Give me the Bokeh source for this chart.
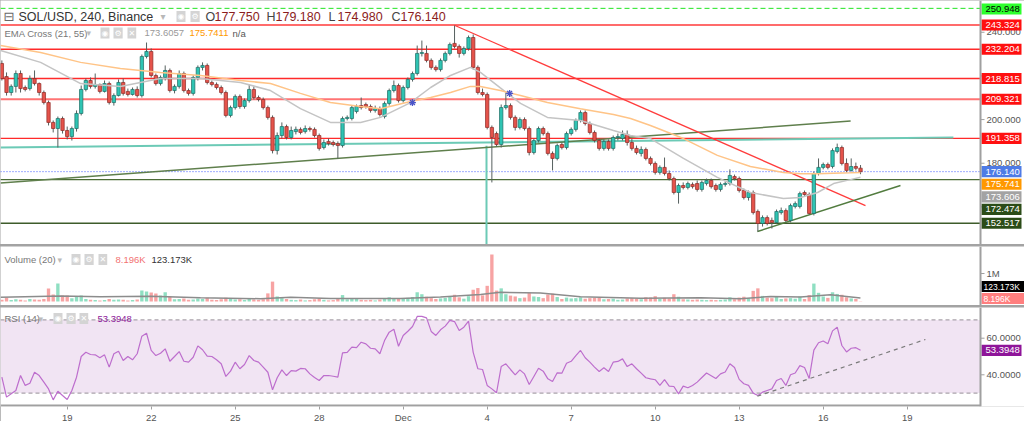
from bokeh.plotting import figure
from bokeh.models import Range1d, FixedTicker, Label, Span, BoxAnnotation
from bokeh.layouts import column
from bokeh.embed import file_html
from bokeh.resources import INLINE
from bokeh.core.properties import value

FONT = "Liberation Sans"

# ---------------- data ----------------
# day numbers: Nov d -> d, Dec d -> 30 + d ; one bar every 4 hours
first_bar_day = 19 - 14 / 6
bar_step = 1 / 6

opens = [
    225.7, 219.7, 212.4, 215.2, 221.1, 214.7, 214.2, 218.8, 216.5, 212.4,
    207.8, 198.7, 195.9, 200.5,
    195.0, 192.2, 195.9, 202.8, 213.8, 217.9, 215.2, 216.1, 212.9, 216.5,
    207.8, 211.0, 217.0, 212.9, 211.5, 213.8, 211.0, 228.9, 231.2, 220.2,
    216.5, 219.3, 222.5, 213.3, 215.2, 221.1, 213.3, 212.0, 219.3, 223.9,
    224.8, 217.0, 216.1, 214.7, 212.4, 201.9, 205.5, 210.6, 206.0, 208.7,
    213.8, 210.1, 209.2, 205.5, 201.0, 185.8, 192.7, 196.8, 191.8, 194.5,
    195.5, 194.5, 195.9, 195.5, 192.7, 187.2, 190.0, 189.5, 189.0, 188.1,
    200.5, 200.5, 203.7, 206.4, 206.9, 206.0, 204.2, 205.0, 201.4, 207.4,
    213.3, 215.6, 208.7, 214.7, 218.4, 221.1, 230.3, 230.3, 227.1, 223.9,
    222.9, 227.1, 230.3, 234.9, 233.5, 230.3, 232.6, 237.6, 223.9, 212.4,
    211.5, 196.4, 193.6, 188.6, 205.5, 206.4, 201.0, 196.4, 200.0, 195.9,
    184.9, 190.4, 195.9, 193.6, 184.5, 182.2, 188.6, 187.2, 193.6, 195.5,
    199.6, 203.2, 198.2, 194.1, 190.4, 186.8, 190.0, 186.8, 191.8, 191.3,
    193.2, 189.5, 186.8, 184.5, 186.3, 182.2, 179.9, 175.8, 178.1, 175.3,
    173.0, 166.6, 169.8, 168.9, 170.3, 170.7, 168.0, 170.7, 172.1, 169.8,
    168.0, 170.3, 170.7, 173.9, 173.0, 167.5, 164.3, 166.6, 157.9, 152.4,
    155.1, 153.8, 152.9, 157.4, 158.3, 153.8, 160.2, 160.2, 166.6, 165.7,
    157.0, 175.3, 178.1, 179.4, 178.5, 185.4, 187.2, 179.9, 176.7, 178.5, 177.75,
]
highs = [
    227.1, 221.6, 216.1, 222.5, 222.5, 215.6, 220.2, 222.5, 217.0, 213.3,
    208.7, 199.6, 201.4, 201.4,
    196.8, 196.8, 204.2, 215.6, 218.8, 219.3, 221.1, 216.5, 217.9, 217.4,
    212.0, 218.4, 218.8, 214.2, 214.7, 215.2, 229.8, 235.3, 232.6, 221.1,
    220.2, 224.8, 223.4, 216.1, 222.5, 222.0, 214.2, 220.2, 224.8, 226.2,
    225.7, 217.9, 217.0, 215.6, 213.3, 206.4, 211.5, 211.5, 209.7, 216.1,
    215.2, 211.0, 210.1, 206.4, 201.9, 194.1, 198.7, 197.7, 196.8, 196.8,
    196.4, 197.3, 196.8, 196.4, 193.6, 190.9, 191.3, 190.4, 190.0, 201.4,
    201.9, 206.4, 206.9, 210.1, 207.8, 206.9, 206.4, 206.0, 208.3, 214.2,
    217.9, 216.5, 215.6, 219.3, 222.0, 233.9, 236.2, 233.9, 228.0, 224.8,
    228.0, 231.2, 235.3, 243.1, 234.4, 233.5, 238.5, 239.0, 224.8, 214.2,
    212.4, 197.3, 194.5, 206.9, 212.4, 207.4, 201.9, 201.0, 201.0, 196.8,
    191.3, 196.8, 196.8, 194.5, 185.4, 189.0, 189.5, 194.5, 196.4, 200.5,
    204.2, 204.2, 199.1, 195.0, 191.3, 190.9, 190.9, 192.7, 193.6, 195.0,
    195.0, 191.3, 188.1, 187.7, 187.2, 183.1, 180.8, 179.0, 182.6, 176.7,
    173.9, 170.7, 171.2, 171.6, 171.2, 172.1, 172.1, 173.0, 173.0, 170.7,
    171.2, 171.6, 177.2, 174.8, 173.9, 168.4, 167.5, 167.5, 158.8, 156.1,
    156.1, 155.1, 158.8, 159.7, 159.3, 161.5, 162.5, 167.0, 167.5, 166.6,
    176.2, 182.2, 180.3, 180.3, 186.8, 189.0, 188.1, 182.2, 182.2, 180.3, 179.18,
]
lows = [
    217.9, 211.0, 211.0, 212.4, 212.4, 212.9, 213.3, 215.6, 211.0, 206.9,
    197.3, 194.1, 187.2, 193.6,
    190.9, 190.4, 194.5, 201.9, 212.9, 214.2, 214.2, 212.0, 212.4, 206.9,
    206.4, 210.6, 211.0, 210.6, 211.0, 210.1, 210.1, 228.0, 219.3, 215.6,
    215.6, 217.9, 212.4, 212.0, 214.2, 212.4, 211.0, 211.0, 217.9, 222.5,
    216.1, 215.2, 213.8, 211.5, 201.0, 201.0, 204.6, 205.0, 205.0, 207.8,
    209.2, 208.3, 204.6, 200.0, 184.5, 184.0, 191.3, 190.9, 190.9, 193.2,
    193.2, 193.6, 194.5, 191.8, 185.8, 186.3, 188.1, 187.7, 182.2, 187.2,
    199.6, 199.6, 202.8, 204.6, 205.0, 203.2, 203.2, 201.4, 200.5, 206.4,
    212.4, 207.8, 207.8, 213.8, 217.4, 220.2, 228.9, 226.2, 222.9, 222.0,
    222.0, 226.2, 229.4, 232.6, 228.4, 229.4, 231.6, 222.9, 211.5, 210.6,
    195.5, 171.2, 187.7, 187.2, 204.6, 200.0, 195.0, 195.5, 195.0, 183.6,
    184.0, 189.5, 192.7, 183.6, 176.7, 181.3, 186.3, 186.3, 192.7, 194.5,
    198.7, 197.3, 193.2, 189.5, 185.8, 185.8, 185.8, 185.8, 190.4, 190.4,
    188.1, 185.8, 184.0, 183.1, 181.3, 179.0, 174.8, 174.8, 174.4, 172.1,
    165.7, 161.5, 168.0, 168.0, 168.4, 167.0, 167.0, 169.8, 168.4, 167.0,
    167.0, 169.3, 169.8, 172.1, 166.6, 163.4, 162.9, 156.5, 148.7, 151.0,
    151.5, 150.1, 152.4, 156.5, 152.9, 152.9, 159.3, 159.3, 164.8, 156.5,
    156.1, 174.4, 177.2, 177.2, 177.6, 184.5, 179.0, 175.8, 176.2, 176.7, 174.98,
]
closes = [
    218.8, 212.4, 215.2, 221.1, 214.2, 213.8, 218.8, 216.5, 212.4, 207.8,
    198.7, 195.9, 200.5, 195.0,
    192.2, 195.9, 202.8, 213.8, 217.9, 215.2, 216.1, 212.9, 216.5, 207.8,
    211.0, 217.0, 212.0, 211.5, 213.8, 211.0, 228.9, 231.2, 220.2, 216.5,
    219.3, 222.5, 213.3, 215.2, 221.1, 213.3, 212.0, 219.3, 223.9, 224.8,
    217.0, 216.1, 214.7, 212.4, 201.9, 205.5, 210.6, 206.0, 208.7, 213.8,
    210.1, 209.2, 205.5, 201.0, 185.8, 192.7, 196.8, 191.8, 195.0, 195.5,
    194.1, 195.9, 195.5, 192.7, 186.8, 189.5, 189.0, 188.6, 188.1, 200.5,
    201.0, 205.5, 206.0, 205.5, 206.0, 204.2, 205.0, 202.3, 207.4, 213.3,
    215.6, 208.7, 214.7, 218.4, 221.1, 230.3, 230.7, 227.1, 223.9, 222.9,
    227.1, 230.3, 234.4, 233.5, 230.3, 232.6, 237.6, 223.9, 212.4, 211.5,
    196.4, 191.8, 188.6, 205.5, 206.4, 201.0, 196.4, 200.0, 195.9, 184.9,
    190.4, 195.9, 193.6, 184.5, 182.2, 188.1, 187.2, 193.6, 195.5, 199.6,
    203.2, 198.2, 194.1, 190.4, 186.8, 190.0, 186.8, 191.8, 192.2, 193.2,
    189.5, 186.8, 184.9, 186.3, 182.2, 179.9, 175.8, 178.1, 175.3, 173.0,
    166.6, 169.8, 168.9, 170.7, 169.3, 168.0, 171.2, 172.1, 169.3, 168.0,
    170.3, 170.7, 174.4, 173.0, 167.5, 164.3, 166.6, 157.4, 152.4, 155.1,
    152.4, 152.9, 157.9, 158.3, 153.8, 160.6, 161.5, 166.1, 165.7, 157.0,
    175.3, 178.1, 179.4, 178.1, 185.8, 187.2, 179.9, 176.7, 178.5, 177.7, 176.14,
]
volumes_k = [
    60, 140, 50, 80, 60, 40, 90, 70, 60, 90,
    460, 250, 640, 210,
    210, 120, 180, 210, 90, 60, 50, 40, 50, 90,
    60, 70, 60, 40, 50, 70, 390, 360, 320, 290,
    210, 330, 180, 80, 90, 110, 60, 70, 110, 90,
    130, 60, 50, 80, 130, 90, 70, 80, 50, 110,
    70, 60, 80, 290, 710, 180, 120, 90, 60, 50,
    70, 40, 50, 80, 120, 60, 40, 50, 110, 230,
    80, 120, 90, 60, 50, 60, 40, 70, 110, 150,
    90, 100, 120, 130, 160, 330, 260, 170, 120, 90,
    110, 130, 170, 240, 150, 100, 190, 420, 480, 220,
    560, 1680, 390, 470, 260, 210, 180, 120, 140, 300,
    180, 160, 120, 250, 280, 160, 90, 140, 110, 120,
    150, 100, 120, 130, 140, 80, 90, 100, 60, 70,
    110, 120, 100, 80, 150, 140, 190, 90, 130, 110,
    260, 170, 80, 70, 60, 70, 60, 50, 60, 50,
    60, 70, 150, 80, 140, 170, 120, 380, 470, 200,
    140, 120, 170, 90, 110, 120, 100, 180, 90, 230,
    640, 310, 180, 130, 330, 270, 240, 150, 110, 90, 8.196,
]
rsi_vals = [
    38.7, 27.8, 29.6, 31.4, 39.6, 34.2, 35.4, 41.4, 39.6, 36.0,
    32.3, 26.3, 31.0, 28.7,
    26.5, 31.4, 38.7, 50.0, 52.3, 51.1, 50.9, 49.3, 50.9, 44.2,
    51.5, 52.9, 47.8, 50.0, 48.2, 51.5, 61.1, 62.7, 53.3, 50.5,
    51.8, 54.2, 47.4, 50.0, 52.7, 47.4, 46.9, 49.6, 55.8, 53.7,
    50.2, 50.0, 48.2, 46.0, 39.1, 42.0, 46.9, 43.3, 45.6, 50.5,
    47.8, 46.9, 44.2, 41.4, 31.8, 38.4, 42.7, 39.6, 42.3, 42.0,
    43.5, 43.3, 40.5, 38.5, 36.9, 39.6, 39.6, 39.2, 38.7, 52.0,
    52.3, 55.1, 54.8, 57.8, 56.9, 54.5, 54.2, 51.5, 58.7, 63.3,
    64.9, 55.6, 61.5, 63.8, 66.4, 71.9, 71.9, 71.1, 63.7, 61.5,
    64.6, 66.6, 69.7, 69.1, 64.2, 66.0, 69.3, 52.3, 43.3, 42.9,
    34.2, 32.3, 30.2, 44.5, 46.0, 42.9, 40.0, 42.7, 40.5, 34.7,
    39.1, 43.6, 42.0, 37.8, 36.3, 41.1, 40.9, 46.3, 47.4, 50.5,
    53.3, 49.3, 46.9, 44.2, 41.8, 43.8, 41.8, 46.9, 47.3, 48.7,
    44.5, 46.0, 43.3, 40.9, 38.4, 37.8, 37.3, 34.2, 37.4, 33.8,
    33.6, 29.6, 33.8, 32.9, 34.2, 36.0, 38.5, 41.0, 39.5, 38.0,
    40.5, 41.5, 46.0, 44.0, 37.5, 35.1, 34.2, 30.0, 28.7, 30.5,
    31.4, 32.3, 36.9, 38.0, 34.2, 40.0, 41.0, 45.0, 44.0, 38.0,
    53.5, 57.5, 58.5, 57.0, 64.0, 66.0, 56.0, 52.5, 54.5, 54.8, 53.3948,
]

# EMA cross (21, 55), read at these days
ema_days = [16.62, 18.05, 19.48, 20.90, 22.33, 23.76, 25.19, 26.26, 27.33, 28.40,
            29.48, 30.19, 31.26, 31.98, 32.69, 33.40, 33.76, 34.47, 35.19, 36.15,
            37.33, 38.51, 39.12, 39.83, 41.01, 42.22, 43.40, 44.58, 45.19, 45.80,
            46.37, 46.97, 47.33]
ema21_vals = [231.6, 226.2, 216.5, 215.2, 218.8, 218.8, 217.0, 213.3, 205.0, 198.7,
              198.7, 201.0, 207.8, 214.7, 220.2, 223.9, 221.6, 214.5, 207.4, 201.0,
              199.6, 195.0, 192.7, 191.3, 182.2, 173.5, 166.6, 163.8, 164.3, 166.6,
              170.7, 172.5, 173.606]
ema55_vals = [233.9, 230.7, 226.2, 223.4, 221.6, 220.2, 217.9, 216.5, 212.0, 207.8,
              206.0, 205.0, 208.3, 210.1, 212.4, 215.2, 215.2, 213.3, 211.0, 207.8,
              205.0, 202.3, 200.5, 197.3, 191.3, 183.6, 178.5, 175.8, 175.2, 175.2,
              175.4, 175.6, 175.741]
cross_days = [31.33, 34.80]
cross_prices = [207.8, 212.0]

# Volume MA(20), read at these days (thousands)
vol_ma_days = [16.62, 18.76, 20.19, 21.98, 23.76, 25.90, 26.98, 28.40, 30.90, 32.33,
               33.76, 34.47, 35.90, 37.33, 39.47, 41.62, 43.05, 44.12, 45.19, 46.26, 47.33]
vol_ma_k = [150, 200, 170, 190, 130, 100, 150, 110, 110, 160,
            250, 330, 300, 170, 120, 130, 100, 180, 160, 240, 123.173]

# horizontal levels on the price pane
level_values = [250.948, 243.324, 232.204, 218.815, 209.321, 191.358, 176.140, 172.474, 152.517]
# price-scale tags
tag_values = [250.948, 243.324, 232.204, 218.815, 209.321, 191.358, 176.140, 175.741, 173.606, 172.474, 152.517]

# drawn trend lines: (day0, value0, day1, value1)
teal_line = (16.62, 187.2, 50.65, 191.8)
teal_drop = (33.975, 188.0, 33.975, 142.9)
green_long = (16.62, 171.0, 46.98, 199.3)
red_down = (32.83, 243.2, 47.51, 160.6)
green_support = (43.65, 148.7, 48.76, 169.8)
rsi_trend = (43.65, 28.3, 49.65, 59.3)

price_ticks = [160, 180, 200, 220, 240]
price_tick_labels = ["160.000", "180.000", "200.000", "220.000", "240.000"]
vol_ticks = [1_000_000]
vol_tick_labels = ["1M"]
rsi_ticks = [40, 60]
rsi_tick_labels = ["40.0000", "60.0000"]
day_ticks = [19, 22, 25, 28, 31, 34, 37, 40, 43, 46, 49]
day_labels = ["19", "22", "25", "28", "Dec", "4", "7", "10", "13", "16", "19"]

# ---------------- geometry ----------------
PX_DAY = 28.0
X_LEFT = 19 - 66.7 / PX_DAY
W = 1024
AX_PX = 980          # price-scale border
xr = Range1d(X_LEFT, X_LEFT + W / PX_DAY)


def xd(px):
    return X_LEFT + px / PX_DAY


X_AX = xd(AX_PX)

MAIN_H = 244
P_PX = 1 / 2.183
P_TOP = 243.324 + 24.5 * P_PX
P_BOT = P_TOP - MAIN_H * P_PX

VOL_H = 59
V_PX = 1e6 / 28
V_TOP = 55 * V_PX
V_BOT = V_TOP - VOL_H * V_PX

RSI_H = 99
R_PX = 1 / 1.83
R_TOP = 60 + 30.7 * R_PX
R_BOT = R_TOP - RSI_H * R_PX

UP, UP_EDGE = "#2fc4b3", "#1d6d64"
DN, DN_EDGE = "#e5534b", "#8c2a25"
WICK = "#56605f"
AXIS_C = "#a0a0a0"
TXT_C = "#555555"


def base_fig(fh, yrange, with_x_axis=False):
    p = figure(frame_width=W, frame_height=fh, x_range=xr, y_range=yrange,
               output_backend="svg", toolbar_location=None, title=None,
               x_axis_location="below" if with_x_axis else None,
               y_axis_location=None,
               min_border_left=0, min_border_right=0, min_border_top=0,
               min_border_bottom=15 if with_x_axis else 0)
    p.outline_line_color = None
    for g in p.grid:
        g.grid_line_color = None
    p.background_fill_color = "white"
    p.border_fill_color = "white"
    return p


def right_scale(p, ticks, labels):
    p.add_layout(Span(location=X_AX, dimension="height", line_color=AXIS_C, line_width=2))
    n_t = len(ticks)
    p.segment(x0=[X_AX] * n_t, y0=ticks, x1=[xd(AX_PX + 4)] * n_t, y1=ticks,
              line_color=AXIS_C, line_width=1)
    p.text(x=[xd(AX_PX + 6)] * n_t, y=ticks, text=labels, text_color=TXT_C,
           text_font=value(FONT), text_font_size=value("9.5px"),
           text_baseline="middle", text_align="left")


def tags(p, yvals, texts, bgs, fgs, half, right_px=1021, text_px=985, size="9.5px"):
    n_t = len(yvals)
    p.quad(left=[xd(AX_PX + 1)] * n_t, right=[xd(right_px)] * n_t,
           bottom=[y - half for y in yvals], top=[y + half for y in yvals],
           fill_color=bgs, line_color=None)
    p.text(x=[xd(text_px)] * n_t, y=yvals, text=texts, text_color=fgs,
           text_font=value(FONT), text_font_size=value(size),
           text_baseline="middle", text_align="left")


def lab(p, px, yval, text, color, size="9.5px", font=FONT, bg=None, pad=0):
    kw = {}
    if bg is not None:
        kw = dict(background_fill_color=bg, padding=dict(left=pad, right=pad, top=1, bottom=1))
    p.add_layout(Label(x=xd(px), y=yval, text=text, text_color=color, text_font_size=size,
                       text_font=font, text_baseline="middle", text_align="left", **kw))


def icons(p, pxs, yval, glyphs):
    for px, g in zip(pxs, glyphs):
        lab(p, px, yval, g, "white", size="8px", font="DejaVu Sans", bg="#d4d4d4", pad=1)


def hline(p, yv, col, w, dash="solid"):
    p.segment(x0=[X_LEFT], y0=[yv], x1=[X_AX], y1=[yv], line_color=col, line_width=w, line_dash=dash)


n = len(closes)
t = [first_bar_day + i * bar_step for i in range(n)]
up = [c >= o for o, c in zip(opens, closes)]
body_top = [max(o, c) for o, c in zip(opens, closes)]
body_bot = [min(o, c) for o, c in zip(opens, closes)]

# ---------------- price pane ----------------
pm = base_fig(MAIN_H, Range1d(P_BOT, P_TOP))

level_styles = [("#22e622", 1, "5 3"), ("#ff6b6b", 2, "solid"), ("#ff2a2a", 1.3, "solid"),
                ("#ff2a2a", 1.3, "solid"), ("#ff7474", 2, "solid"), ("#ff2a2a", 1.3, "solid"),
                ("#3d5afe", 1, "1 2"), ("#4b6b36", 1.3, "solid"), ("#3e5c2b", 1.3, "solid")]
for v, (col, w, dash) in zip(level_values, level_styles):
    hline(pm, v, col, w, dash)

for seg, col, w in [(teal_line, "#6ccab6", 2), (teal_drop, "#6ccab6", 2),
                    (green_long, "#5f7f4c", 1.5), (red_down, "#ff3c3c", 1.3),
                    (green_support, "#527c3f", 1.5)]:
    pm.line([seg[0], seg[2]], [seg[1], seg[3]], line_color=col, line_width=w)

pm.segment(x0=t, y0=highs, x1=t, y1=lows, line_color=WICK, line_width=1)
pm.vbar(x=t, width=0.12, top=body_top, bottom=body_bot,
        fill_color=[UP if u else DN for u in up],
        line_color=[UP_EDGE if u else DN_EDGE for u in up], line_width=0.7)

pm.line(ema_days, ema21_vals, line_color="#c4c4c4", line_width=1.5)
pm.line(ema_days, ema55_vals, line_color="#ffc487", line_width=1.5)
pm.scatter(cross_days, cross_prices, marker="asterisk", size=7, line_color="#4b55c8", line_width=1.3)

right_scale(pm, price_ticks, price_tick_labels)

tag_styles = [("#2dff2d", "#000000"), ("#ff1010", "white"), ("#ff1010", "white"),
              ("#ff1010", "white"), ("#ff1010", "white"), ("#ff1010", "white"),
              ("#4e7be6", "white"), ("#ff9800", "white"), ("#a3a3a3", "white"),
              ("#2b4c18", "white"), ("#2b4c18", "white")]
prev = -1e9
ty, tt, tb, tf = [], [], [], []
for v, (bg, fg) in sorted(zip(tag_values, tag_styles), key=lambda r: -r[0]):
    py = (P_TOP - v) / P_PX
    py = max(py, prev + 12.6, 8.5)
    prev = py
    ty.append(P_TOP - py * P_PX)
    tt.append(f"{v:.3f}")
    tb.append(bg)
    tf.append(fg)
tags(pm, ty, tt, tb, tf, 5.6 * P_PX)

# legend texts
y1 = P_TOP - 16 * P_PX
y2 = P_TOP - 32.5 * P_PX
lab(pm, 3, y1, "\u229f", "#6a6a6a", size="13px", font="DejaVu Sans")
lab(pm, 18, y1, "SOL/USD, 240, Binance", "#333333", size="12.5px")
lab(pm, 160, y1, "\u25be", "#b8b8b8", size="10px", font="DejaVu Sans")
icons(pm, [176, 190], y1, ["\u25c9", "\u2699"])
for px, letter, val in [(205, "O", "177.750"), (266, "H", "179.180"),
                        (328, "L", "174.980"), (391, "C", "176.140")]:
    lab(pm, px, y1, letter, "#444444", size="12.5px")
    lab(pm, px + 9, y1, val, "#8b1d1d", size="12.5px")
lab(pm, 4, y2, "EMA Cross (21, 55)", "#777777")
lab(pm, 86, y2, "\u25be", "#bbbbbb", size="9px", font="DejaVu Sans")
icons(pm, [100, 113, 127], y2, ["\u25c9", "\u2699", "\u2715"])
lab(pm, 144, y2, "173.6057", "#999999")
lab(pm, 189, y2, "175.7411", "#ff9800")
lab(pm, 232, y2, "n/a", "#555555")

# ---------------- volume pane ----------------
pv = base_fig(VOL_H, Range1d(V_BOT, V_TOP))
pv.vbar(x=t, width=0.12, top=[v * 1000 for v in volumes_k], bottom=0,
        fill_color=["#8fdfc2" if u else "#f7a3a3" for u in up], line_color=None)
pv.line(vol_ma_days, [v * 1000 for v in vol_ma_k], line_color="#8c8c8c", line_width=1.5)
right_scale(pv, vol_ticks, vol_tick_labels)


def yv(py):
    return V_TOP - (py - 246) * V_PX


tags(pv, [yv(286), yv(298)], ["123.173K", "8.196K"], ["#000000", "#ff7f7f"],
     ["white", "white"], 5.6 * V_PX, right_px=1024, text_px=983, size="8.5px")

lab(pv, 4, yv(259), "Volume (20)", "#777777")
lab(pv, 57, yv(259), "\u25be", "#bbbbbb", size="9px", font="DejaVu Sans")
icons(pv, [71, 84, 98], yv(259), ["\u25c9", "\u2699", "\u2715"])
lab(pv, 115, yv(259), "8.196K", "#f27272")
lab(pv, 151, yv(259), "123.173K", "#333333")

# ---------------- RSI pane ----------------
pr = base_fig(RSI_H, Range1d(R_BOT, R_TOP), with_x_axis=True)
pr.add_layout(BoxAnnotation(bottom=30, top=70, right=X_AX, fill_color="#f1e4f3", fill_alpha=1,
                            line_color=None, level="underlay"))
for lv in (70, 30):
    hline(pr, lv, "#aaa2ab", 1.2, "4 3")
pr.line(t, rsi_vals, line_color="#bd6ecd", line_width=1.2)
pr.line([rsi_trend[0], rsi_trend[2]], [rsi_trend[1], rsi_trend[3]],
        line_color="#7a7a7a", line_width=1.2, line_dash="4 4")
right_scale(pr, rsi_ticks, rsi_tick_labels)
# bottom axis line (only under the plotting area)
pr.segment(x0=[X_LEFT], y0=[R_BOT + 1 * R_PX], x1=[X_AX], y1=[R_BOT + 1 * R_PX],
           line_color=AXIS_C, line_width=2)
tags(pr, [rsi_vals[-1]], ["53.3948"], ["#8e1599"], ["white"], 5.6 * R_PX)

xa = pr.xaxis[0]
xa.ticker = FixedTicker(ticks=day_ticks)
xa.major_label_overrides = {d: s for d, s in zip(day_ticks, day_labels)}
xa.axis_line_color = None
xa.major_tick_line_color = AXIS_C
xa.major_tick_out = 3
xa.major_tick_in = 0
xa.minor_tick_line_color = None
xa.major_label_text_font = FONT
xa.major_label_text_font_size = "9.5px"
xa.major_label_text_color = TXT_C
xa.major_label_standoff = 2


def yr(py):
    return R_TOP - (py - 307) * R_PX


lab(pr, 4, yr(318), "RSI (14)", "#777777")
lab(pr, 38, yr(318), "\u25be", "#bbbbbb", size="9px", font="DejaVu Sans")
icons(pr, [53, 66, 79], yr(318), ["\u25c9", "\u2699", "\u2715"])
lab(pr, 97, yr(318), "53.3948", "#8e1b9a")

layout = column(pm, pv, pr, spacing=2, styles={"background-color": "#a3a3a3"})
open("out.html", "w").write(file_html(layout, INLINE))
